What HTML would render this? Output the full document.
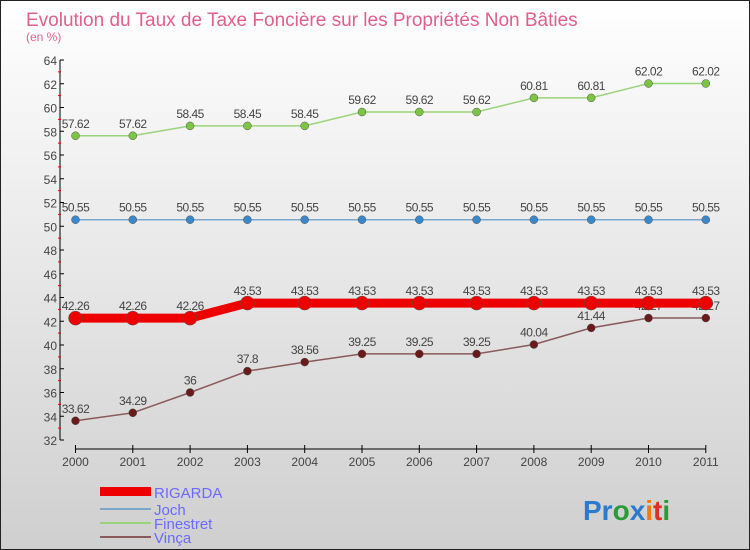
<!DOCTYPE html>
<html><head><meta charset="utf-8"><style>
body{margin:0}
#c{width:750px;height:550px;position:relative;overflow:hidden;background:linear-gradient(#ffffff,#cfcfcf);font-family:"Liberation Sans",sans-serif}
</style></head><body>
<div id="c">
<svg width="750" height="550" id="s">
<rect x="0.5" y="0.5" width="749" height="549" fill="none" stroke="#222"/>
<text x="26" y="26" font-size="19" fill="#e0608a">Evolution du Taux de Taxe Foncière sur les Propriétés Non Bâties</text>
<text x="26" y="41" font-size="12" fill="#e0608a">(en %)</text>
<g id="ax"></g><g id="ser"></g>
<g>
<rect x="100" y="487" width="51" height="9" fill="#e00"/>
<text x="154" y="498" font-size="15" fill="#6a6aff">RIGARDA</text>
<rect x="100" y="508" width="51" height="2" fill="#7aa8cc"/>
<text x="154" y="515" font-size="15" fill="#6a6aff">Joch</text>
<rect x="100" y="522" width="51" height="2" fill="#9ad47a"/>
<text x="154" y="529" font-size="15" fill="#6a6aff">Finestret</text>
<rect x="100" y="536" width="51" height="2" fill="#8a5a5a"/>
<text x="154" y="543" font-size="15" fill="#6a6aff">Vinça</text>
</g>
<text x="583" y="520" font-size="28" font-weight="bold"><tspan fill="#2a7bd0">Pr</tspan><tspan fill="#2a9a3a">o</tspan><tspan fill="#2a7bd0">x</tspan><tspan fill="#f07a10">i</tspan><tspan fill="#e03020">t</tspan><tspan fill="#2a9a3a">i</tspan></text>
</svg></div>
<script>
const years=["2000","2001","2002","2003","2004","2005","2006","2007","2008","2009","2010","2011"];
const rigarda=[42.26,42.26,42.26,43.53,43.53,43.53,43.53,43.53,43.53,43.53,43.53,43.53];
const joch=[50.55,50.55,50.55,50.55,50.55,50.55,50.55,50.55,50.55,50.55,50.55,50.55];
const finestret=[57.62,57.62,58.45,58.45,58.45,59.62,59.62,59.62,60.81,60.81,62.02,62.02];
const vinca=[33.62,34.29,36,37.8,38.56,39.25,39.25,39.25,40.04,41.44,42.27,42.27];
const yTicks=[32,34,36,38,40,42,44,46,48,50,52,54,56,58,60,62,64];
const NS="http://www.w3.org/2000/svg";
const X=i=>75.5+i*57.3, Y=v=>60+(64-v)*11.875;
function mk(p,t,a){const e=document.createElementNS(NS,t);for(const k in a)e.setAttribute(k,a[k]);p.appendChild(e);return e;}
const ax=document.getElementById('ax');
let l=mk(ax,'line',{x1:60,y1:Y(64),x2:60,y2:Y(32),stroke:'#000'});


l=mk(ax,'line',{x1:X(0),y1:449,x2:X(11),y2:449,stroke:'#000'});


yTicks.forEach(v=>{
 mk(ax,'line',{x1:60,y1:Y(v),x2:64,y2:Y(v),stroke:'#000'});
 mk(ax,'line',{x1:58,y1:Y(v+1),x2:61,y2:Y(v+1),stroke:v<64?'#e00':'none'});
 const t=mk(ax,'text',{x:57,y:Y(v)+5,'font-size':12,'text-anchor':'end',fill:'#444'});
 t.textContent=v;
 
 
});
years.forEach((y,i)=>{
 mk(ax,'line',{x1:X(i),y1:445,x2:X(i),y2:453,stroke:'#000'});
 const t=mk(ax,'text',{x:X(i),y:466,'font-size':12,'text-anchor':'middle',fill:'#444'});
 t.textContent=y;
 
 
});
const ser=document.getElementById('ser');
function draw(name,vals,col,w,r,dot){
 const g=mk(ser,'g',{});
 
 
 const p=mk(g,'polyline',{points:vals.map((v,i)=>X(i)+','+Y(v)).join(' '),fill:'none',stroke:col,'stroke-width':w});
 
 
 vals.forEach((v,i)=>{
  const c=mk(g,'circle',{cx:X(i),cy:Y(v),r:r,fill:dot,stroke:'#555','stroke-width':0.5});
  
  
  const t=mk(g,'text',{x:X(i),y:Y(v)-8,'font-size':12,'text-anchor':'middle',fill:'#444','letter-spacing':'-0.5'});
  t.textContent=v;
  
  
 });
}
draw('finestret',finestret,'#9ad47a',1.5,4,'#7cc444');
draw('joch',joch,'#7aa8cc',1.5,4,'#3a88cc');
draw('vinca',vinca,'#8a5a5a',1.5,4,'#6a1a1a');
draw('rigarda',rigarda,'#ee0000',9,7,'#ee0000');
</script>
</body></html>
